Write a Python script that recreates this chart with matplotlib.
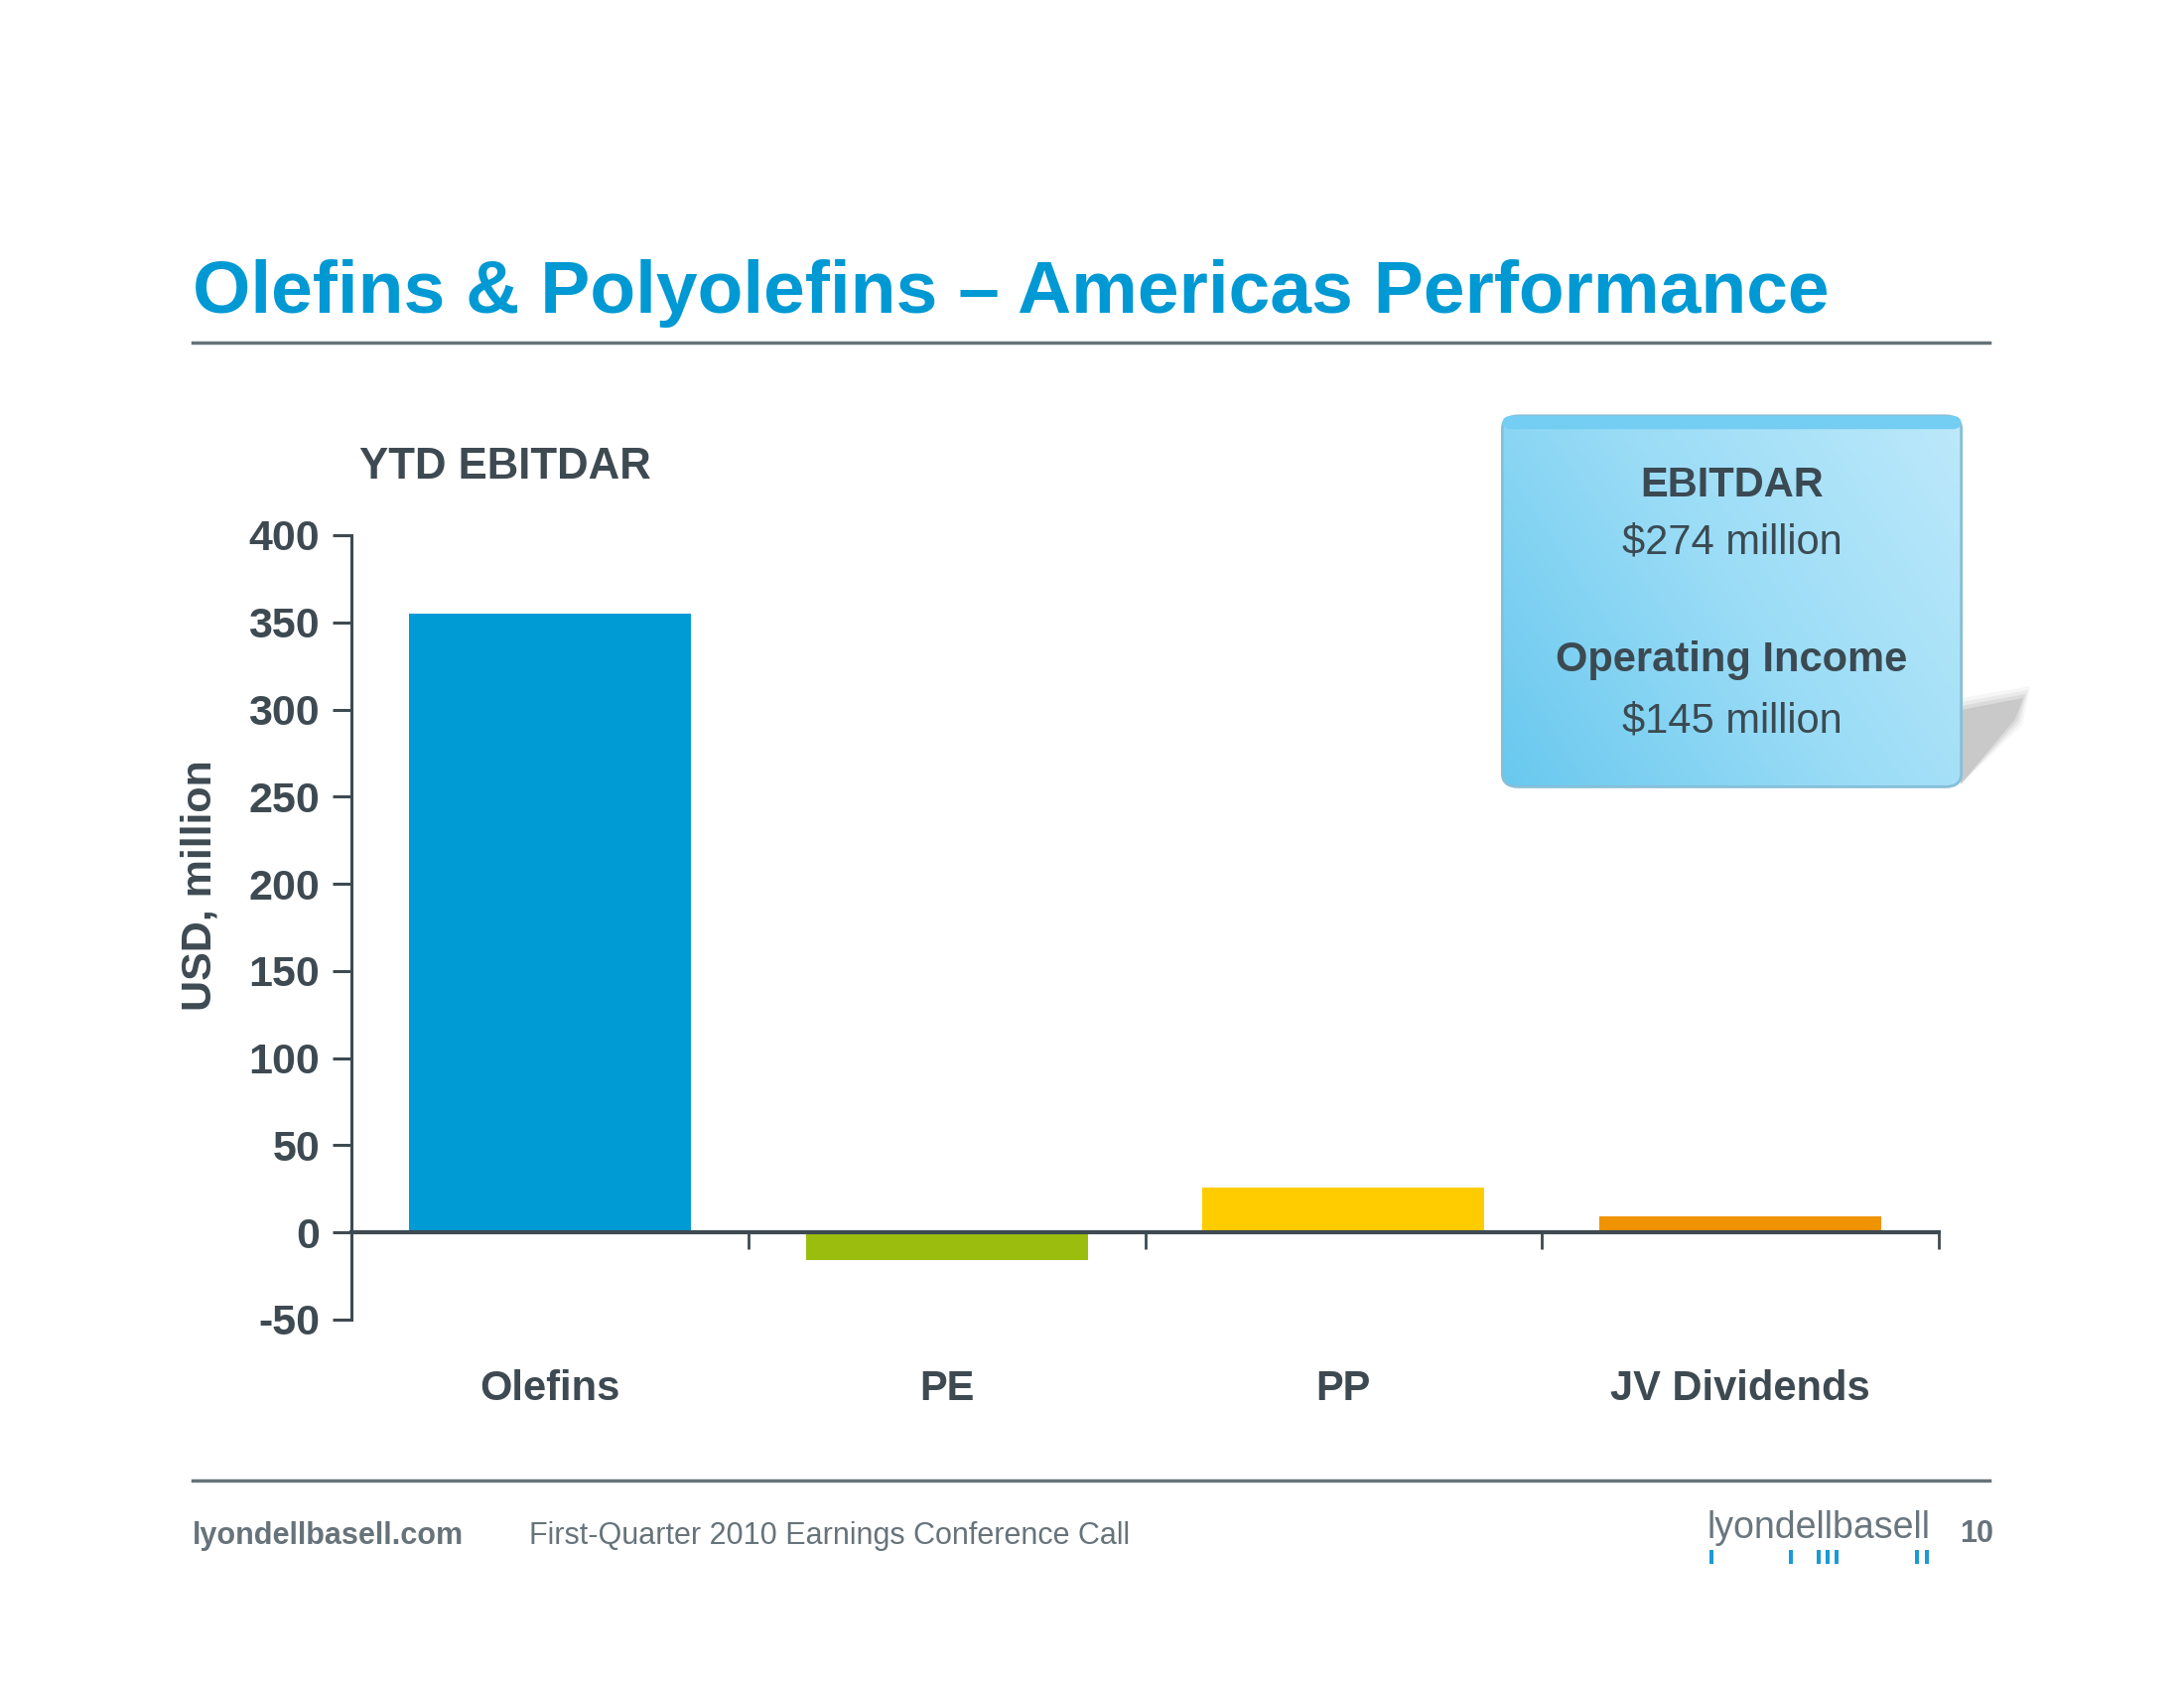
import numpy as np
import matplotlib
matplotlib.use("Agg")
from matplotlib import pyplot as plt
from matplotlib.patches import FancyBboxPatch, Rectangle, Polygon
import matplotlib.colors as mcolors

plt.rcParams['font.family'] = ['Liberation Sans', 'DejaVu Sans']

# data
categories = ["Olefins", "PE", "PP", "JV Dividends"]
ebitdar = [355, -16, 26, 9.5]
bar_colors = ["#009bd5", "#9bbd0e", "#ffcc00", "#f09300"]
yticks = [-50, 0, 50, 100, 150, 200, 250, 300, 350, 400]

DARK = "#3e4a52"
GREY = "#67737a"
BLUE = "#0199d3"

fig = plt.figure(figsize=(22, 17), dpi=100)

# title and rules
fig.text(194 / 2200, 1 - 296 / 1700, "Olefins & Polyolefins \u2013 Americas Performance",
         color=BLUE, fontsize=54, fontweight="bold", va="center", ha="left")
fig.add_artist(plt.Line2D([194 / 2200, 2004 / 2200], [1 - 345 / 1700] * 2, color=GREY, lw=2.5))
fig.add_artist(plt.Line2D([194 / 2200, 2004 / 2200], [1 - 1491 / 1700] * 2, color=GREY, lw=2.5))

# chart
ax = fig.add_axes([354 / 2200, 1 - 1329 / 1700, (1953 - 354) / 2200, (1329 - 539) / 1700])
x = np.arange(len(categories))
ax.bar(x, ebitdar, width=0.71, color=bar_colors, zorder=2)
ax.set_xlim(-0.5, len(categories) - 0.5)
ax.set_ylim(-50, 400)
ax.set_yticks(yticks)
ax.set_yticklabels([str(v) for v in yticks])
for s in ["top", "right"]:
    ax.spines[s].set_visible(False)
ax.spines["bottom"].set_position(("data", 0))
ax.spines["bottom"].set_color(DARK)
ax.spines["bottom"].set_linewidth(3)
ax.spines["bottom"].set_zorder(3)
ax.spines["left"].set_color(DARK)
ax.spines["left"].set_linewidth(2.2)
ax.set_xticks(np.arange(len(categories)) + 0.5)
ax.set_xticklabels([])
ax.tick_params(axis="x", direction="out", length=12, width=2, color=DARK)
ax.tick_params(axis="y", direction="out", length=14, width=2.2, color=DARK,
               labelsize=31, labelcolor=DARK, pad=9)
for lbl in ax.get_yticklabels():
    lbl.set_fontweight("bold")
for xi, name in zip(x, categories):
    ax.text(xi, -0.089, name, transform=ax.get_xaxis_transform(), ha="center", va="center",
            fontsize=30, fontweight="bold", color=DARK)
ax.set_ylabel("USD, million", fontsize=31, fontweight="bold", color=DARK)
ax.yaxis.set_label_coords(-0.083, 0.554)

fig.text(362 / 2200, 1 - 471 / 1700, "YTD EBITDAR", fontsize=31.5, fontweight="bold",
         color=DARK, va="center", ha="left")

# highlight box with gradient and soft shadow
bx0, by0, bx1, by1 = 1511, 415, 1978, 797
for i, a in enumerate([0.07, 0.10, 0.15, 0.22]):
    d = 4 * (3 - i)
    shadow = Polygon([[1975 / 2200, 1 - (715 - d) / 1700],
                      [(2038 + d * 0.6) / 2200, 1 - (703 - d) / 1700],
                      [(2030 + d * 0.6) / 2200, 1 - (724 + d * 0.5) / 1700],
                      [1975 / 2200, 1 - 790 / 1700]],
                     closed=True, transform=fig.transFigure, facecolor="#8a8a8a", alpha=a,
                     edgecolor="none", zorder=-1)
    fig.add_artist(shadow)
bax = fig.add_axes([bx0 / 2200, 1 - by1 / 1700, (bx1 - bx0) / 2200, (by1 - by0) / 1700])
bax.set_axis_off()
gx, gy = np.meshgrid(np.linspace(0, 1, 200), np.linspace(0, 1, 200))
grad = np.clip(0.65 * gx + 0.35 * gy, 0, 1)
cmap = mcolors.LinearSegmentedColormap.from_list("box", ["#68c8ef", "#9adcf6", "#bde9fb"])
bax.imshow(grad, cmap=cmap, extent=[0, 1, 0, 1], origin="lower", aspect="auto", zorder=1)
clip = FancyBboxPatch((0.005, 0.012), 0.99, 0.978, boxstyle="round,pad=0,rounding_size=0.035",
                      transform=bax.transAxes, facecolor="none", edgecolor="#86bfd8",
                      linewidth=2, zorder=2)
bax.add_patch(clip)
bax.images[0].set_clip_path(clip)
top = FancyBboxPatch((0.005, 0.955), 0.99, 0.035, boxstyle="round,pad=0,rounding_size=0.02",
                     transform=bax.transAxes, facecolor="#74cdf2", edgecolor="none", zorder=2)
bax.add_patch(top)
bax.set_xlim(0, 1)
bax.set_ylim(0, 1)
bax.text(0.5, 0.805, "EBITDAR", ha="center", va="center", fontsize=30, fontweight="bold",
         color="#3b4a52", zorder=3)
bax.text(0.5, 0.655, "$274 million", ha="center", va="center", fontsize=30,
         color="#3b4a52", zorder=3)
bax.text(0.5, 0.345, "Operating Income", ha="center", va="center", fontsize=30,
         fontweight="bold", color="#3b4a52", zorder=3)
bax.text(0.5, 0.185, "$145 million", ha="center", va="center", fontsize=30,
         color="#3b4a52", zorder=3)

# footer
fig.text(194 / 2200, 1 - 1547 / 1700, "lyondellbasell.com", fontsize=22, fontweight="bold",
         color=GREY, va="center", ha="left")
fig.text(533 / 2200, 1 - 1547 / 1700, "First-Quarter 2010 Earnings Conference Call",
         fontsize=22, color=GREY, va="center", ha="left")
fig.text(1719 / 2200, 1 - 1539 / 1700, "lyondellbasell", fontsize=27, color="#6a767d",
         va="center", ha="left")
for bxp in [1722, 1802, 1830, 1839, 1848, 1929, 1939]:
    fig.add_artist(Rectangle((bxp / 2200, 1 - 1575 / 1700), 3.5 / 2200, 14 / 1700,
                             transform=fig.transFigure, facecolor="#1a9ad6", edgecolor="none"))
fig.text(1974 / 2200, 1 - 1545 / 1700, "10", fontsize=22, fontweight="bold",
         color=GREY, va="center", ha="left")

fig.savefig("out.png", dpi=100, facecolor="white")
